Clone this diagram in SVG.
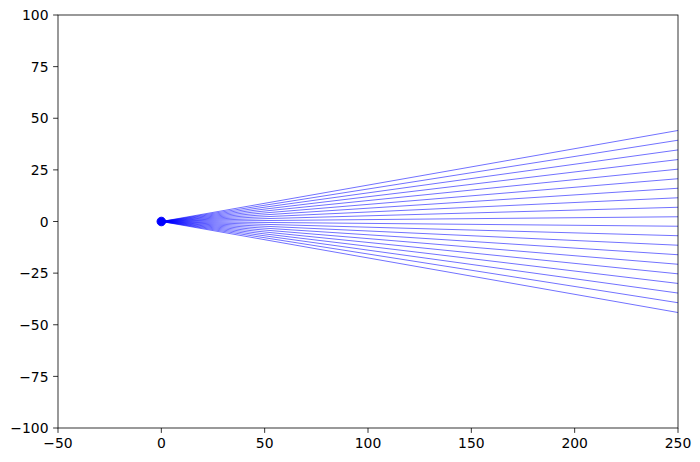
<svg xmlns="http://www.w3.org/2000/svg" width="700" height="462" viewBox="0 0 700 462">
<style>
.ray{stroke:#0000ff;stroke-opacity:0.7;stroke-width:0.8;fill:none}
.tick{stroke:#000;stroke-width:0.8}
.lbl{font-family:"DejaVu Sans",sans-serif;font-size:13.9px;fill:#000}
.xl{text-anchor:middle}
.yl{text-anchor:end}
</style>
<rect x="0" y="0" width="700" height="462" fill="#fff"/>
<g id="rays">
<path class="ray" d="M161.33,221.5L678,130.47M161.33,221.5L678,140.22M161.33,221.5L678,149.91M161.33,221.5L678,159.56M161.33,221.5L678,169.16M161.33,221.5L678,178.72M161.33,221.5L678,188.26M161.33,221.5L678,197.77M161.33,221.5L678,207.27M161.33,221.5L678,216.76M161.33,221.5L678,226.24M161.33,221.5L678,235.73M161.33,221.5L678,245.23M161.33,221.5L678,254.74M161.33,221.5L678,264.28M161.33,221.5L678,273.84M161.33,221.5L678,283.44M161.33,221.5L678,293.06M161.33,221.5L678,302.72M161.33,221.5L678,312.53"/>
</g>
<g id="origin">
<circle cx="161.33" cy="221.5" r="4.3" fill="#0000ff" stroke="#0000ff" stroke-width="1"/>
</g>
<g id="axes">
<rect x="58" y="15" width="620" height="413" fill="none" stroke="#000" stroke-width="0.8"/>
<path class="tick" d="M58,428v4.9M161.33,428v4.9M264.67,428v4.9M368,428v4.9M471.33,428v4.9M574.67,428v4.9M678,428v4.9"/>
<path class="tick" d="M58,15h-4.9M58,66.63h-4.9M58,118.25h-4.9M58,169.88h-4.9M58,221.5h-4.9M58,273.13h-4.9M58,324.75h-4.9M58,376.38h-4.9M58,428h-4.9"/>
<g class="lbl xl">
<text x="58" y="448">−50</text>
<text x="161.33" y="448">0</text>
<text x="264.67" y="448">50</text>
<text x="368" y="448">100</text>
<text x="471.33" y="448">150</text>
<text x="574.67" y="448">200</text>
<text x="678" y="448">250</text>
</g>
<g class="lbl yl">
<text x="48.5" y="20.2">100</text>
<text x="48.5" y="71.8">75</text>
<text x="48.5" y="123.4">50</text>
<text x="48.5" y="175.1">25</text>
<text x="48.5" y="226.7">0</text>
<text x="48.5" y="278.3">−25</text>
<text x="48.5" y="329.9">−50</text>
<text x="48.5" y="381.6">−75</text>
<text x="48.5" y="433.2">−100</text>
</g>
</g>
</svg>
